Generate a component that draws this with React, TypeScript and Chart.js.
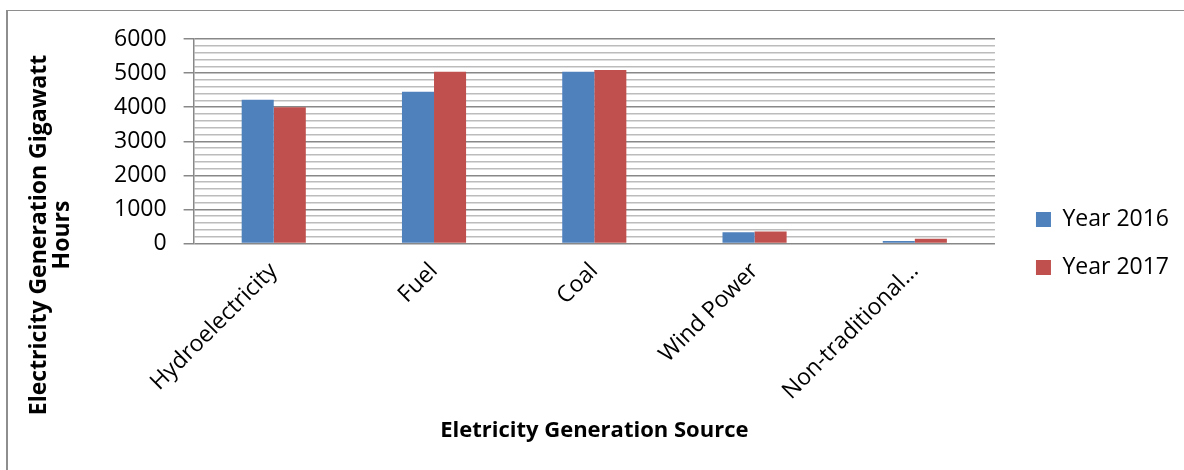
import { useEffect, useRef } from 'react';
import { Chart, registerables } from 'chart.js';

Chart.register(...registerables);

const categories = ['Hydroelectricity', 'Fuel', 'Coal', 'Wind Power', 'Non-traditional…'];
const year2016 = [4220, 4450, 5040, 330, 70];
const year2017 = [4000, 5040, 5090, 350, 140];
const seriesLabels = ['Year 2016', 'Year 2017'];
const yMin = 0;
const yMax = 6000;
const yMinorStep = 200;
const yMajorStep = 1000;
const xTitle = 'Eletricity Generation Source';
const yTitleLines = ['Electricity Generation Gigawatt', 'Hours'];

const FONT = "'Open Sans', sans-serif";

export default function App() {
  const ref = useRef<HTMLCanvasElement | null>(null);

  useEffect(() => {
    if (!ref.current) return;
    const yTitlePlugin = {
      id: 'yTitleCustom',
      afterDraw(chart: any) {
        const ctx = chart.ctx;
        ctx.save();
        ctx.translate(39, 235);
        ctx.rotate(-Math.PI / 2);
        ctx.font = `bold 23px ${FONT}`;
        ctx.fillStyle = '#000';
        ctx.textAlign = 'center';
        ctx.textBaseline = 'middle';
        yTitleLines.forEach((line, i) => ctx.fillText(line, 0, i * 23));
        ctx.restore();
      },
    };

    const chart = new Chart(ref.current, {
      type: 'bar',
      data: {
        labels: categories,
        datasets: [
          { label: seriesLabels[0], data: year2016, backgroundColor: '#4F81BD', categoryPercentage: 0.4, barPercentage: 1.0 },
          { label: seriesLabels[1], data: year2017, backgroundColor: '#C0504D', categoryPercentage: 0.4, barPercentage: 1.0 },
        ],
      },
      options: {
        responsive: false,
        animation: false,
        layout: { padding: { left: 97, right: 5, top: 39, bottom: 22 } },
        plugins: {
          legend: {
            position: 'right',
            labels: {
              boxWidth: 15,
              boxHeight: 15,
              padding: 25,
              color: '#000',
              font: { family: FONT, size: 23 },
            },
          },
          tooltip: { enabled: false },
        },
        scales: {
          x: {
            grid: { display: false, drawTicks: false },
            border: { display: false },
            ticks: {
              minRotation: 45,
              maxRotation: 45,
              color: '#000',
              padding: 14,
              font: { family: FONT, size: 23 },
            },
            title: {
              display: true,
              text: xTitle,
              color: '#000',
              font: { family: FONT, size: 22, weight: 'bold' },
              padding: { top: 13, bottom: 4 },
            },
          },
          y: {
            min: yMin,
            max: yMax,
            ticks: {
              stepSize: yMinorStep,
              autoSkip: false,
              color: '#000',
              padding: 17,
              font: { family: FONT, size: 23 },
              callback: (v: any) => (Number(v) % yMajorStep === 0 ? String(v) : ''),
            },
            grid: {
              color: (c: any) => (c.tick && c.tick.value % yMajorStep === 0 ? '#888888' : '#bcbcbc'),
              tickColor: (c: any) => (c.tick && c.tick.value % yMajorStep === 0 ? '#888888' : 'rgba(0,0,0,0)'),
              lineWidth: 1.5,
              tickLength: 10,
            },
            border: { color: '#888888', width: 1.5 },
          },
          y2: {
            position: 'right',
            grid: { display: false, drawTicks: false },
            ticks: { display: false },
            border: { display: false },
            afterFit: (s: any) => {
              s.width = 16;
            },
          },
        },
      } as any,
      plugins: [yTitlePlugin],
    });
    return () => chart.destroy();
  }, []);

  return (
    <div style={{ position: 'absolute', left: 0, top: 0, width: 1184, height: 470, background: '#fff' }}>
      <div
        style={{
          position: 'absolute',
          left: 6,
          top: 10,
          right: 0,
          bottom: 0,
          borderLeft: '2px solid #8e8e8e',
          borderTop: '1px solid #8e8e8e',
        }}
      />
      <canvas ref={ref} width={1184} height={470} style={{ position: 'absolute', left: 0, top: 0 }} />
    </div>
  );
}
